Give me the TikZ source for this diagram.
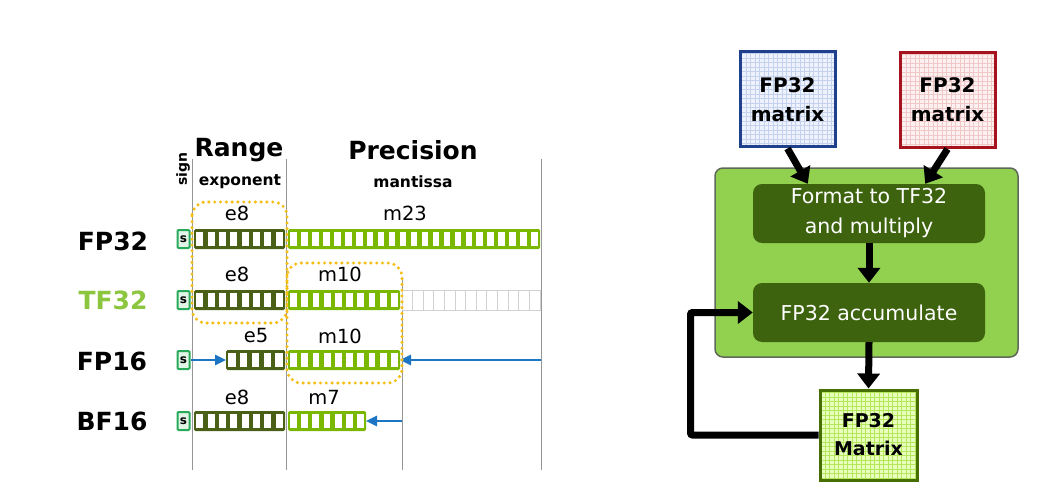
\documentclass[tikz,border=0pt]{standalone}
\usepackage{fontspec}
\setmainfont{DejaVu Sans}
\usetikzlibrary{arrows.meta,calc}

\definecolor{expgreen}{RGB}{74,96,22}
\definecolor{mantgreen}{RGB}{122,184,0}
\definecolor{signgreen}{RGB}{40,170,90}
\definecolor{signfill}{RGB}{225,245,230}
\definecolor{tfgreen}{RGB}{140,198,63}
\definecolor{arrowblue}{RGB}{28,118,196}
\definecolor{dotyellow}{RGB}{245,190,20}
\definecolor{panelgreen}{RGB}{146,208,80}
\definecolor{panelrim}{RGB}{95,105,90}
\definecolor{stepgreen}{RGB}{61,99,14}
\definecolor{bluerim}{RGB}{31,64,140}
\definecolor{bluefill}{RGB}{238,242,252}
\definecolor{blueline}{RGB}{196,210,240}
\definecolor{redrim}{RGB}{165,20,30}
\definecolor{redfill}{RGB}{252,240,240}
\definecolor{redline}{RGB}{240,200,200}
\definecolor{limerim}{RGB}{70,110,0}
\definecolor{limefill}{RGB}{232,255,190}
\definecolor{limeline}{RGB}{180,232,90}
\definecolor{guide}{RGB}{150,150,150}

\tikzset{
  bitfield/.style={rectangle, inner sep=0pt, outer sep=0pt, minimum height=20pt, rounded corners=1.5pt},
  signbox/.style={rectangle, draw=signgreen, fill=signfill, line width=2pt, rounded corners=1pt,
    inner sep=0pt, minimum width=12pt, minimum height=18pt,
    font=\fontsize{12}{12}\selectfont\bfseries},
  bitlabel/.style={font=\fontsize{19.5}{19.5}\selectfont},
  rowlabel/.style={font=\fontsize{25}{25}\selectfont\bfseries},
  heading/.style={font=\fontsize{25}{25}\selectfont\bfseries},
  subheading/.style={font=\fontsize{15.5}{15.5}\selectfont\bfseries},
  bluearrow/.style={draw=arrowblue, line width=2.5pt, -{Triangle[length=11pt,width=10pt]}},
  dotbox/.style={draw=dotyellow, line width=3.4pt, line cap=round,
    dash pattern=on 0pt off 5.8pt, rounded corners=14pt},
  guideline/.style={draw=guide, line width=0.9pt},
  matrixbox/.style={rectangle, line width=3pt, minimum width=95pt, minimum height=95pt,
    align=center, font=\fontsize{20}{29}\selectfont\bfseries},
  stepbox/.style={rectangle, rounded corners=9pt, fill=stepgreen, text=white,
    minimum width=232pt, minimum height=59pt, align=center,
    font=\fontsize{20.5}{30}\selectfont},
  flow/.style={draw=black, line width=7pt, -{Triangle[length=15pt,width=22pt]}},
}

% a bit field: name, left x, right x, centre y, number of bits, colour
\newcommand\bitbar[6]{%
  \node[bitfield, fill=#6, minimum width={(#3)-(#2)}, anchor=west] (#1) at (#2,#4) {};
  \pgfmathsetmacro\cellw{((#3)-(#2))/#5}
  \foreach \k in {1,...,#5}{
    \fill[white] ($(#1.west)+({(\k-1)*\cellw+2.2},-6.8)$) rectangle ($(#1.west)+({\k*\cellw-2.2},6.8)$);
  }
}
% unused bit positions, drawn as thin grey cells
\newcommand\emptybar[5]{%
  \node[bitfield, rounded corners=0pt, draw=black!18, line width=1pt, minimum width={(#3)-(#2)}, anchor=west] (#1) at (#2,#4) {};
  \pgfmathsetmacro\cellw{((#3)-(#2))/#5}
  \foreach \k in {1,...,#5}{
    \draw[black!18, line width=1pt] ($(#1.south west)+({\k*\cellw},0)$) -- ($(#1.north west)+({\k*\cellw},0)$);
  }
}

\begin{document}
\begin{tikzpicture}[x=1pt, y=-1pt]
  \fill[white] (0,0) rectangle (1060,492);
  \useasboundingbox (0,0) rectangle (1060,492);

  % ---------- bit layouts ----------
  \draw[guideline] (192,159) -- (192,470);
  \draw[guideline] (286,159) -- (286,470);
  \draw[guideline] (402,277) -- (402,470);
  \draw[guideline] (541,159) -- (541,470);

  \node[heading] (range) at (239,150) {Range};
  \node[subheading] (expo) at (240,182) {exponent};
  \node[heading] (prec) at (413,150) {Precision};
  \node[subheading] (mant) at (413,182) {mantissa};
  \node[font=\fontsize{14}{14}\selectfont\bfseries, rotate=90] (signlbl) at (183,169) {sign};

  \node[rowlabel] (fp32) at (113,241) {FP32};
  \node[rowlabel, text=tfgreen] (tf32) at (113,300) {TF32};
  \node[rowlabel] (fp16) at (112,361) {FP16};
  \node[rowlabel] (bf16) at (112,421) {BF16};

  % FP32
  \node[signbox] (s1) at (183.5,239) {s};
  \bitbar{e1}{194}{285}{239}{8}{expgreen}
  \bitbar{m1}{288}{540}{239}{23}{mantgreen}
  \node[bitlabel] (le1) at (237,213) {e8};
  \node[bitlabel] (lm1) at (405,213) {m23};

  % TF32
  \node[signbox] (s2) at (183.5,300) {s};
  \bitbar{e2}{194}{285}{300}{8}{expgreen}
  \bitbar{m2}{288}{400}{300}{10}{mantgreen}
  \emptybar{g2}{402}{540}{300}{13}
  \node[bitlabel] (le2) at (237,274) {e8};
  \node[bitlabel] (lm2) at (340,274) {m10};

  % FP16
  \node[signbox] (s3) at (183.5,360) {s};
  \bitbar{e3}{226}{285}{360}{5}{expgreen}
  \bitbar{m3}{288}{400}{360}{10}{mantgreen}
  \node[bitlabel] (le3) at (256,336) {e5};
  \node[bitlabel] (lm3) at (340,336) {m10};
  \draw[bluearrow] (s3.east) -- (e3.west);
  \coordinate (tail16) at (541,360);
  \draw[bluearrow] (tail16) -- (m3.east);

  % BF16
  \node[signbox] (s4) at (183.5,421) {s};
  \bitbar{e4}{194}{285}{421}{8}{expgreen}
  \bitbar{m4}{288}{366}{421}{7}{mantgreen}
  \node[bitlabel] (le4) at (237,397) {e8};
  \node[bitlabel] (lm4) at (324,397) {m7};
  \coordinate (tailbf) at (402,421);
  \draw[bluearrow] (tailbf) -- (m4.east);

  % shared range and shared precision
  \draw[dotbox] (192,202) rectangle (287,323);
  \draw[dotbox] (287,263) rectangle (402,383);

  % ---------- tensor core data flow ----------
  \node[rectangle, rounded corners=8pt, fill=panelgreen, draw=panelrim, line width=1.5pt,
        minimum width=303pt, minimum height=189pt] (core) at (866.5,262.5) {};
  \node[stepbox] (fmt) at (869,213.5) {Format to TF32\\and multiply};
  \node[stepbox] (acc) at (869,312.5) {FP32 accumulate};

  \node[matrixbox, draw=bluerim, fill=bluefill,
        path picture={\draw[blueline, line width=0.8pt, step=4.5pt]
          (path picture bounding box.south west) grid (path picture bounding box.north east);}]
        (bluem) at (787.5,99.5) {FP32\\matrix};
  \node[matrixbox, draw=redrim, fill=redfill,
        path picture={\draw[redline, line width=0.8pt, step=4.5pt]
          (path picture bounding box.south west) grid (path picture bounding box.north east);}]
        (redm) at (947.5,100) {FP32\\matrix};
  \node[matrixbox, draw=limerim, fill=limefill, minimum height=90pt, minimum width=97pt,
        font=\fontsize{19}{28}\selectfont\bfseries,
        path picture={\draw[limeline, line width=1pt, step=4.5pt]
          (path picture bounding box.south west) grid (path picture bounding box.north east);}]
        (res) at (868.5,435) {FP32\\Matrix};

  \draw[flow] (bluem.south) -- ($(fmt.north west)+(55,0)$);
  \draw[flow] (redm.south) -- ($(fmt.north east)+(-60,0)$);
  \draw[flow] (fmt.south) -- (acc.north);
  \draw[flow] (acc.south) -- (res.north);
  \draw[flow, rounded corners=2pt] (res.west) -- ++(-128,0) |- (acc.west);
\end{tikzpicture}
\end{document}
